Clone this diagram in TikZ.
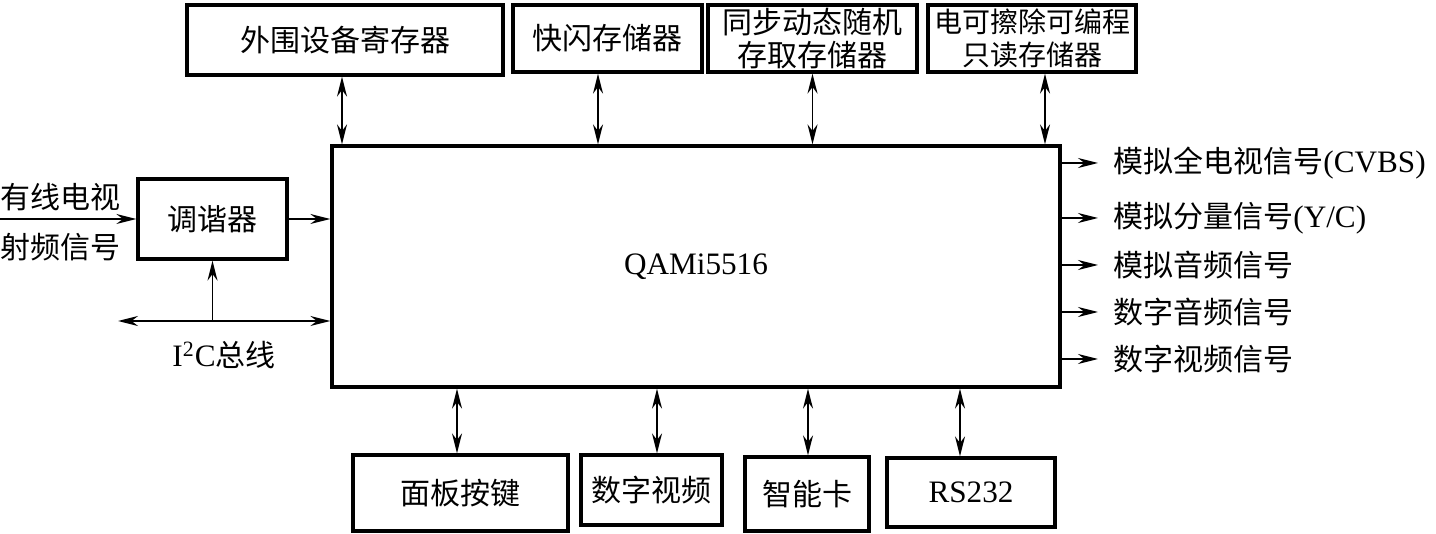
\documentclass[tikz,border=0pt]{standalone}
\usepackage{fontspec}
\setmainfont{Liberation Serif}[Scale=1.04]
\newfontfamily\cjk{Noto Sans CJK SC}
\newcommand{\cn}[1]{{\cjk #1}}
\usetikzlibrary{arrows.meta,positioning,calc}

\begin{document}
\begin{tikzpicture}[x=0.5pt,y=-0.5pt,
    every node/.style={font=\fontsize{15pt}{16.5pt}\selectfont,inner sep=0pt},
    blockbox/.style={rectangle,draw,line width=1.6pt,align=center},
    linkedge/.style={line width=0.9pt,{Stealth[length=10pt,width=5pt]}-{Stealth[length=10pt,width=5pt]}},
    sigedge/.style={line width=0.9pt,-{Stealth[length=10pt,width=5pt]}},
    textbox/.style={draw=none,fill=none,anchor=west}
]
\useasboundingbox (0,0) rectangle (1436,534);

\node[blockbox,minimum width=158pt,minimum height=35pt]   (perireg) at (345,40)     {\cn{外围设备寄存器}};
\node[blockbox,minimum width=94.5pt,minimum height=33.5pt] (flash)  at (607.5,38.5) {\cn{快闪存储器}};
\node[blockbox,minimum width=104.5pt,minimum height=33.5pt] (sdram) at (812.5,38.5) {\cn{同步动态随机}\\\cn{存取存储器}};
\node[blockbox,minimum width=104pt,minimum height=33.5pt,
      font=\fontsize{14pt}{16.5pt}\selectfont] (eeprom) at (1032,38.5) {\cn{电可擦除可编程}\\\cn{只读存储器}};
\node[blockbox,minimum width=364pt,minimum height=120.5pt] (qam)   at (696,266.5)  {QAMi5516};
\node[blockbox,minimum width=74.5pt,minimum height=40pt]   (tuner) at (212.5,219)  {\cn{调谐器}};
\node[blockbox,minimum width=107.5pt,minimum height=38pt]  (panel) at (460.5,493)  {\cn{面板按键}};
\node[blockbox,minimum width=70.5pt,minimum height=35pt]   (dvideo) at (651.5,490) {\cn{数字视频}};
\node[blockbox,minimum width=62pt,minimum height=37pt]     (card)  at (807,494)    {\cn{智能卡}};
\node[blockbox,minimum width=84pt,minimum height=34.5pt]   (rs232) at (971,492.5)  {RS232};

\node[textbox] (cvbs)   at (1113,163) {\cn{模拟全电视信号}(CVBS)};
\node[textbox] (yc)     at (1113,218) {\cn{模拟分量信号}(Y/C)};
\node[textbox] (aaudio) at (1113,265) {\cn{模拟音频信号}};
\node[textbox] (daudio) at (1113,312) {\cn{数字音频信号}};
\node[textbox] (dvout)  at (1113,359) {\cn{数字视频信号}};

\node[textbox] (cabletv) at (0,197) {\cn{有线电视}};
\node[textbox] (rfsig)   at (0,247) {\cn{射频信号}};
\node (buslabel) at (224,355) {I\textsuperscript{2}C\cn{总线}};

\coordinate (rfin) at (0,219);
\coordinate (busend) at (118,321);
\coordinate (busjoin) at (tuner.south |- busend);

% memory links
\path (perireg.south) ++(-3,0) coordinate (pr-link);
\path (flash.south) ++(-9.5,0) coordinate (fl-link);
\path (sdram.south) ++(0,0) coordinate (sd-link);
\path (eeprom.south) ++(13,0) coordinate (ee-link);
\draw[linkedge] (pr-link) -- (pr-link |- qam.north);
\draw[linkedge] (fl-link) -- (fl-link |- qam.north);
\draw[linkedge] (sd-link) -- (sd-link |- qam.north);
\draw[linkedge] (ee-link) -- (ee-link |- qam.north);

% peripheral links
\path (panel.north) ++(-3.5,0) coordinate (pa-link);
\path (dvideo.north) ++(5.5,0) coordinate (dv-link);
\path (card.north) ++(1,0) coordinate (ca-link);
\path (rs232.north) ++(-11,0) coordinate (rs-link);
\draw[linkedge] (pa-link |- qam.south) -- (pa-link);
\draw[linkedge] (dv-link |- qam.south) -- (dv-link);
\draw[linkedge] (ca-link |- qam.south) -- (ca-link);
\draw[linkedge] (rs-link |- qam.south) -- (rs-link);

% input side
\draw[sigedge] (rfin) -- (tuner.west);
\draw[sigedge] (tuner.east) -- (tuner.east -| qam.west);
\draw[linkedge] (busend) -- (busend -| qam.west);
\draw[sigedge] (busjoin) -- (tuner.south);

% outputs
\draw[sigedge,shorten >=7.5pt] (qam.east |- cvbs.west) -- (cvbs.west);
\draw[sigedge,shorten >=7.5pt] (qam.east |- yc.west) -- (yc.west);
\draw[sigedge,shorten >=7.5pt] (qam.east |- aaudio.west) -- (aaudio.west);
\draw[sigedge,shorten >=7.5pt] (qam.east |- daudio.west) -- (daudio.west);
\draw[sigedge,shorten >=7.5pt] (qam.east |- dvout.west) -- (dvout.west);
\end{tikzpicture}
\end{document}
